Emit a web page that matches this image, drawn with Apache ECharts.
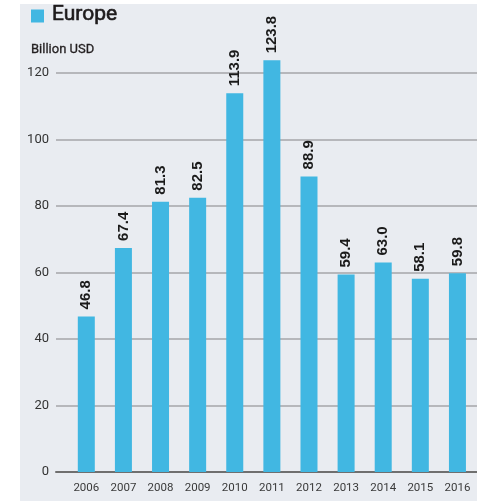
<!DOCTYPE html>
<html>
<head>
<meta charset="utf-8">
<script src="https://cdn.jsdelivr.net/npm/echarts@6/dist/echarts.min.js"></script>
<style>
  html, body { margin: 0; padding: 0; background: #ffffff; }
  #main { width: 477px; height: 501px; }
</style>
</head>
<body>
<div id="main"></div>
<script>
// chart data
const years = ['2006', '2007', '2008', '2009', '2010', '2011', '2012', '2013', '2014', '2015', '2016'];
const europe = [46.8, 67.4, 81.3, 82.5, 113.9, 123.8, 88.9, 59.4, 63.0, 58.1, 59.8];
const yTicks = [0, 20, 40, 60, 80, 100, 120];

const face = 'Roboto, "Liberation Sans", sans-serif';
const blue = '#41b7e2';

const chart = echarts.init(document.getElementById('main'));

const option = {
    animation: false,
    graphic: [
        { type: 'rect', z: -10, shape: { x: 20, y: 4, width: 457, height: 497 }, style: { fill: '#e9ecf1' } },
        { type: 'rect', shape: { x: 31, y: 9.5, width: 13, height: 13 }, style: { fill: blue } },
        { type: 'text', x: 52, y: 4, style: { text: 'Europe', font: '21px ' + face, fill: '#1e1b1c', stroke: '#1e1b1c', lineWidth: 0.6 } },
        { type: 'text', x: 31, y: 43, style: { text: 'Billion USD', font: '13px ' + face, fill: '#231f20', stroke: '#231f20', lineWidth: 0.3 } }
    ],
    grid: [
        { left: 56, right: 0, top: 73, bottom: 29 },
        { left: 67.75, right: 1, top: 73, bottom: 29 }
    ],
    xAxis: [
        {
            gridIndex: 0, type: 'value', min: 0, max: 1,
            axisLine: { show: true, onZero: false, lineStyle: { color: '#6f6f6f', width: 2 } },
            axisTick: { show: false }, axisLabel: { show: false }, splitLine: { show: false }
        },
        {
            gridIndex: 1, type: 'category', data: years,
            axisLine: { show: false }, axisTick: { show: false },
            axisLabel: { interval: 0, margin: 10, color: '#3a3a3a', fontSize: 11.5, fontFamily: face }
        }
    ],
    yAxis: [
        {
            gridIndex: 0, type: 'value', min: yTicks[0], max: yTicks[yTicks.length - 1], interval: 20,
            axisLine: { show: false }, axisTick: { show: false },
            axisLabel: { margin: 7, color: '#333333', fontSize: 13, fontFamily: face },
            splitLine: { lineStyle: { color: '#a4a6a9', width: 1.5 } }
        },
        {
            gridIndex: 1, type: 'value', min: yTicks[0], max: yTicks[yTicks.length - 1],
            show: false, splitLine: { show: false }
        }
    ],
    series: [{
        name: 'Europe',
        type: 'bar',
        xAxisIndex: 1,
        yAxisIndex: 1,
        data: europe,
        barWidth: 17,
        clip: false,
        itemStyle: { color: blue },
        label: {
            show: true,
            position: 'top',
            rotate: 90,
            align: 'left',
            verticalAlign: 'middle',
            distance: 7,
            formatter: p => p.value.toFixed(1),
            color: '#1a1a1a',
            fontSize: 15,
            fontWeight: 'bold',
            fontFamily: '"Liberation Sans", Arial, sans-serif'
        }
    }]
};

chart.setOption(option);
</script>
</body>
</html>
